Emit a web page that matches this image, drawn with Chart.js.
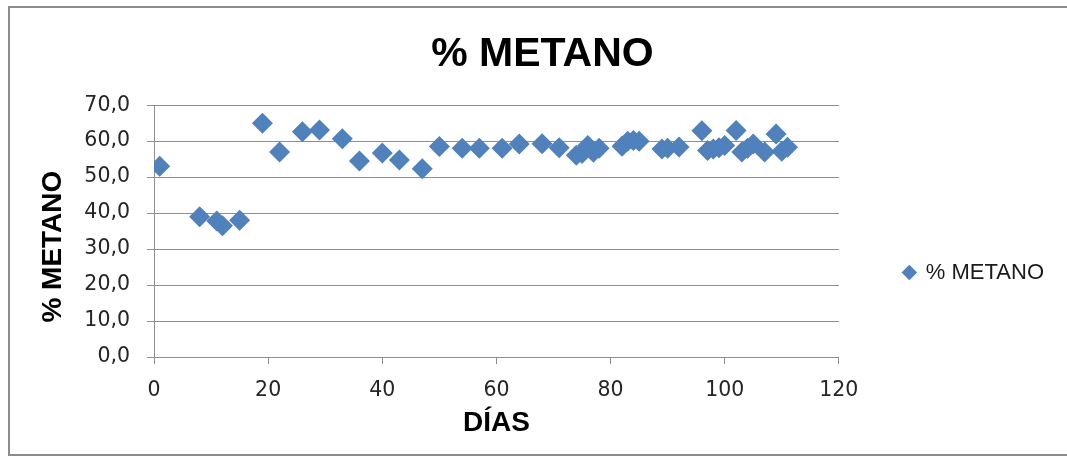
<!DOCTYPE html>
<html>
<head>
<meta charset="utf-8">
<title>% METANO</title>
<script src="https://cdn.jsdelivr.net/npm/chart.js@4.4.1/dist/chart.umd.min.js"></script>
<style>
  html, body { margin: 0; padding: 0; background: #ffffff; overflow: hidden; }
  #chart { display: block; }
</style>
</head>
<body>
<canvas id="chart" width="1067" height="461"></canvas>
<script>
// Día de medición
const dias = [1, 8, 11, 12, 15, 19, 22, 26, 29, 33, 36, 40, 43, 47, 50, 54, 57, 61, 64, 68,
              71, 74, 75, 76, 77, 78, 82, 83, 84, 85, 89, 90, 92, 96, 97, 98, 99, 100,
              102, 103, 104, 105, 107, 109, 110, 111];
// Porcentaje de metano en el biogás
const metano = [53.0, 39.0, 37.8, 36.5, 38.0, 65.0, 57.0, 62.6, 63.1, 60.7, 54.5, 56.7, 54.8, 52.3, 58.5, 58.0, 58.0, 58.0, 59.2, 59.3,
                58.2, 56.1, 56.6, 58.8, 56.9, 58.0, 58.6, 60.0, 60.2, 60.0, 57.8, 58.0, 58.4, 62.9, 57.4, 57.8, 58.2, 58.8,
                63.0, 57.0, 58.0, 59.2, 57.0, 62.0, 57.2, 58.3];

const xTickValues = [0, 20, 40, 60, 80, 100, 120];
const yTickValues = [0, 10, 20, 30, 40, 50, 60, 70];

const seriesName = '% METANO';
const chartTitle = '% METANO';
const xTitle = 'DÍAS';
const yTitle = '% METANO';

const points = dias.map((d, i) => ({ x: d, y: metano[i] }));

const BLUE = '#4F81BD';
const GRID = '#8e8e8e';
const TICK_FONT = { family: "'DejaVu Sans', sans-serif", size: 20.5 };
const BOLD_FONT = "'Liberation Sans', Arial, sans-serif";

// White background and the chart frame (left, top and bottom edges)
const chartFrame = {
  id: 'chartFrame',
  beforeDraw(chart) {
    const { ctx, width, height } = chart;
    ctx.save();
    ctx.fillStyle = '#ffffff';
    ctx.fillRect(0, 0, width, height);
    ctx.strokeStyle = '#8c8c8c';
    ctx.lineWidth = 2;
    ctx.beginPath();
    ctx.moveTo(width + 5, 7);
    ctx.lineTo(9, 7);
    ctx.lineTo(9, 455);
    ctx.lineTo(width + 5, 455);
    ctx.stroke();
    ctx.restore();
  }
};

// Moves the legend block down so it sits beside the lower part of the plot
const legendShift = {
  id: 'legendShift',
  afterLayout(chart) {
    const lg = chart.legend;
    if (lg) { lg.top += 42; lg.bottom += 42; }
  }
};

new Chart(document.getElementById('chart'), {
  type: 'scatter',
  data: {
    datasets: [{
      label: seriesName,
      data: points,
      pointStyle: 'rectRot',
      pointRadius: 10.5,
      pointHoverRadius: 10.5,
      backgroundColor: BLUE,
      borderColor: BLUE,
      borderWidth: 0
    }]
  },
  options: {
    responsive: false,
    animation: false,
    events: [],
    layout: { padding: { left: 31, right: 13, top: 0, bottom: 0 } },
    plugins: {
      tooltip: { enabled: false },
      title: {
        display: true,
        text: chartTitle,
        color: '#000000',
        font: { family: BOLD_FONT, size: 41, weight: 'bold', lineHeight: 1.2 },
        padding: { top: 30, bottom: 26 }
      },
      legend: {
        display: true,
        position: 'right',
        align: 'center',
        labels: {
          usePointStyle: true,
          boxWidth: 11,
          boxHeight: 11,
          padding: 65,
          color: '#1a1a1a',
          font: { family: "'Liberation Sans', Arial, sans-serif", size: 22 }
        }
      }
    },
    scales: {
      x: {
        type: 'linear',
        min: 0,
        max: 120,
        afterBuildTicks: s => { s.ticks = xTickValues.map(v => ({ value: v })); },
        afterFit: s => { s.height = 104; },
        grid: { drawOnChartArea: false, drawTicks: true, tickLength: 7, color: GRID },
        border: { display: true, color: GRID, width: 1 },
        ticks: { padding: 14, color: '#262626', font: TICK_FONT, maxRotation: 0 },
        title: {
          display: true,
          text: xTitle,
          color: '#000000',
          font: { family: BOLD_FONT, size: 28, weight: 'bold', lineHeight: 1.2 },
          padding: { top: 0, bottom: 21 }
        }
      },
      y: {
        type: 'linear',
        min: 0,
        max: 70,
        afterBuildTicks: s => { s.ticks = yTickValues.map(v => ({ value: v })); },
        afterFit: s => { s.width = 123; },
        grid: { drawOnChartArea: true, drawTicks: true, tickLength: 7, color: GRID },
        border: { display: true, color: GRID, width: 1 },
        ticks: {
          padding: 17,
          color: '#262626',
          font: TICK_FONT,
          callback: v => v.toFixed(1).replace('.', ',')
        },
        title: {
          display: true,
          text: yTitle + '    ',
          color: '#000000',
          font: { family: BOLD_FONT, size: 28, weight: 'bold', lineHeight: 1.0 },
          padding: { top: 8, bottom: 0 }
        }
      }
    }
  },
  plugins: [chartFrame, legendShift]
});
</script>
</body>
</html>
